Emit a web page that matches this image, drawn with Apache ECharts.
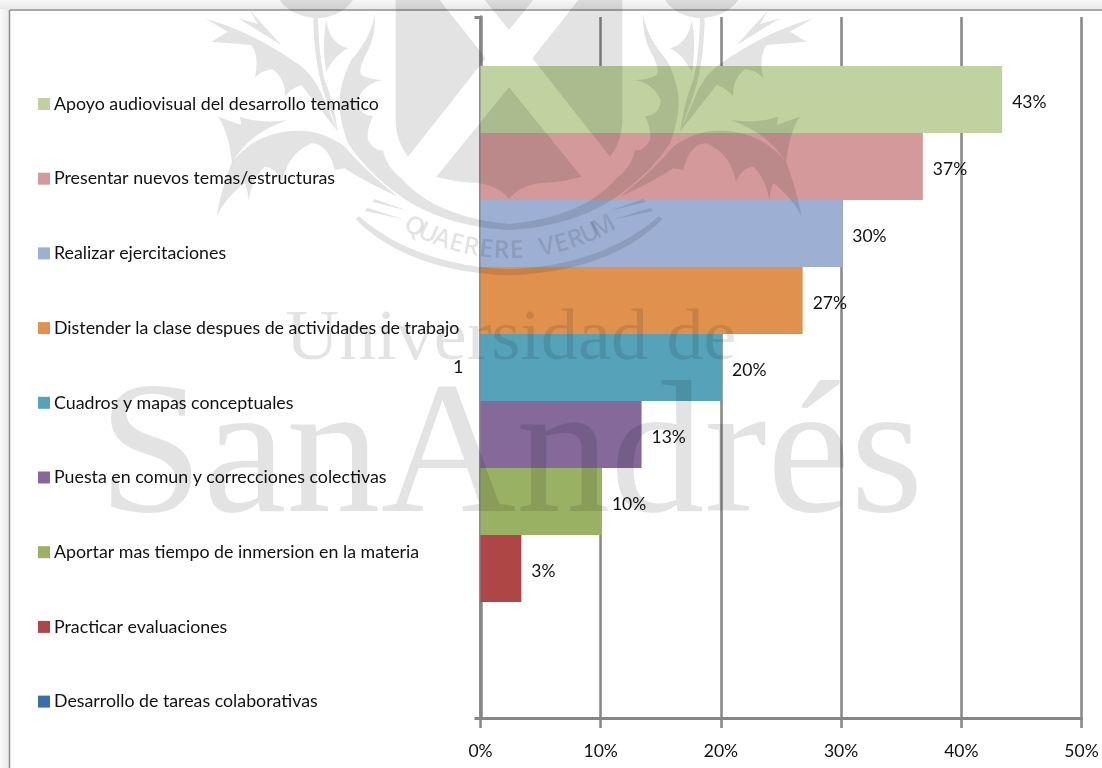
<!DOCTYPE html>
<html>
<head>
<meta charset="utf-8">
<style>html,body{margin:0;padding:0;background:#fff}#chart{width:1102px;height:768px}</style>
<script src="https://cdn.jsdelivr.net/npm/echarts@6/dist/echarts.min.js"></script>
</head>
<body>
<div id="chart"></div>
<script>
const categories = ['1'];
const seriesNames = [
  'Apoyo audiovisual del desarrollo tematico',
  'Presentar nuevos temas/estructuras',
  'Realizar ejercitaciones',
  'Distender la clase despues de actividades de trabajo',
  'Cuadros y mapas conceptuales',
  'Puesta en comun y correcciones colectivas',
  'Aportar mas tiempo de inmersion en la materia',
  'Practicar evaluaciones',
  'Desarrollo de tareas colaborativas'
];
const seriesValues = [43.4, 36.8, 30.1, 26.8, 20.1, 13.4, 10.1, 3.4, 0];
const seriesColors = ['#bfd2a0', '#d49a9b', '#9db0d4', '#e0914d', '#55a2b9', '#84699a', '#98b163', '#ae4645', '#3c6ea6'];
const axisTicks = { min: 0, max: 50, interval: 10 };

const FONT = 'Lato';
const AXIS_GREY = '#868686';
const STAMP = 'rgba(0,0,0,0.11)';

// Half of the university crest, drawn once and mirrored about the shield's centre.
const crestHalf = [
  // shield pieces between the saltire arms
  'M 27,262 L 245,530 Q 180,548 130,548 Q 60,555 27,597 Z',
  'M 235,0 L 97,175 L 330,470 Q 367,420 367,360 L 367,0 Z',
  'M 27,0 L 27,90 L 100,0 Z',
  // main stem sweeping round the shield
  'M 430,45 Q 425,110 460,170 Q 480,215 470,225 Q 440,240 405,240 Q 460,250 482,300 Q 480,345 435,348 Q 455,390 450,420 Q 430,455 405,450 Q 395,500 350,535 Q 250,650 27,672 L 27,690 Q 220,680 350,590 Q 450,520 510,430 Q 540,350 535,290 Q 530,240 500,180 Q 440,110 430,45 Z',
  // slim inner stem and its lobe
  'M 600,55 L 614,55 Q 612,200 575,300 L 540,395 Q 555,300 580,240 Q 597,170 600,55 Z',
  'M 575,60 Q 565,130 510,145 Q 550,165 575,215 Q 590,140 575,60 Z',
  // upper spiked leaf
  'M 540,395 L 650,255 Q 680,265 700,290 Q 695,240 735,208 Q 770,210 790,235 Q 775,170 800,135 L 920,125 L 870,95 L 940,55 Q 800,95 670,185 Q 620,215 590,280 Z',
  'M 710,135 L 805,30 L 780,72 L 840,55 Z',
  // lower spiked leaf
  'M 520,440 Q 600,380 700,395 Q 800,410 860,490 Q 890,570 905,650 Q 870,585 820,550 Q 810,570 808,605 Q 800,540 760,500 Q 725,505 708,545 Q 690,460 620,430 Q 570,430 550,510 L 520,505 Q 450,550 360,590 Q 450,520 520,440 Z',
  'M 690,360 Q 770,372 835,350 L 830,375 L 900,350 Q 870,390 858,490 Q 810,400 690,360 Z',
  // thistle head cut by the frame
  'M 495,0 Q 530,50 600,55 Q 680,50 715,0 Z',
  // ribbon strokes and the outer band under the motto
  'M 430,597 L 437,606 L 330,632 Z',
  'M 452,623 L 460,633 L 343,658 Z',
  'M 478,648 L 487,658 Q 330,815 27,826 L 27,808 Q 310,795 478,648 Z'
];

function outlinePoints(d) {
  const t = d.trim().split(/[\s,]+/);
  const pts = [];
  let i = 0, x = 0, y = 0;
  while (i < t.length) {
    const c = t[i++];
    if (c === 'Z') break;
    if (c === 'M' || c === 'L') {
      x = +t[i++]; y = +t[i++]; pts.push([x, y]);
    } else if (c === 'Q') {
      const cx = +t[i++], cy = +t[i++], ex = +t[i++], ey = +t[i++];
      for (let k = 1; k <= 12; k++) {
        const s = k / 12, r = 1 - s;
        pts.push([r * r * x + 2 * r * s * cx + s * s * ex, r * r * y + 2 * r * s * cy + s * s * ey]);
      }
      x = ex; y = ey;
    }
  }
  return pts;
}

const crestAxis = 509;
const stamp = [];
crestHalf.forEach(d => {
  const pts = outlinePoints(d).map(p => [500 + p[0] / 3, p[1] / 3]);
  [pts, pts.map(p => [2 * crestAxis - p[0], p[1]])].forEach(points => {
    stamp.push({ type: 'polygon', z: 100, silent: true, shape: { points }, style: { fill: STAMP } });
  });
});

// Motto set letter by letter along an arc.
const motto = 'QUAERERE VERUM';
const mottoRadius = 200, mottoCy = 53, mottoStep = 15.2;
Array.from(motto).forEach((ch, i) => {
  if (ch === ' ') return;
  const off = (i - (motto.length - 1) / 2) * mottoStep;
  const a = off / mottoRadius;
  stamp.push({
    type: 'text', z: 100, silent: true,
    x: crestAxis + mottoRadius * Math.sin(a),
    y: mottoCy + mottoRadius * Math.cos(a) - 2,
    rotation: a,
    originX: 0, originY: 0,
    style: { text: ch, fill: STAMP, font: '600 25px "Open Sans"', textAlign: 'center', textVerticalAlign: 'middle' }
  });
});

stamp.push(
  { type: 'text', z: 100, silent: true, x: 511, y: 340, scaleX: 1.03, originX: 0, originY: 0,
    style: { text: 'Universidad de', fill: STAMP, font: '72px "Liberation Serif"', textAlign: 'center', textVerticalAlign: 'middle' } },
  { type: 'text', z: 100, silent: true, x: 511, y: 462,
    style: { text: 'SanAndrés', fill: STAMP, font: '188px "Liberation Serif"', textAlign: 'center', textVerticalAlign: 'middle' } }
);

// Window-like frame behind the plot.
const frame = [
  { type: 'rect', z: 0, silent: true, shape: { x: 0, y: 0, width: 1102, height: 9 },
    style: { fill: new echarts.graphic.LinearGradient(0, 0, 0, 1, [{ offset: 0, color: '#f8f8f8' }, { offset: 1, color: '#e9e9e9' }]) } },
  { type: 'rect', z: 0, silent: true, shape: { x: 0, y: 9, width: 9, height: 759 },
    style: { fill: new echarts.graphic.LinearGradient(0, 0, 1, 0, [{ offset: 0, color: '#fbfbfb' }, { offset: 1, color: '#e9e9e9' }]) } },
  { type: 'line', z: 1, silent: true, shape: { x1: 9.5, y1: 10, x2: 1102, y2: 10 }, style: { stroke: '#8d8d8d', lineWidth: 1.5 } },
  { type: 'line', z: 1, silent: true, shape: { x1: 9.5, y1: 10, x2: 9.5, y2: 768 }, style: { stroke: '#8d8d8d', lineWidth: 1.5 } }
];

const chart = echarts.init(document.getElementById('chart'), null, { renderer: 'canvas' });
chart.setOption({
  animation: false,
  backgroundColor: '#fff',
  textStyle: { fontFamily: FONT },
  grid: { left: 480.5, right: 20.5, top: 17, bottom: 50, containLabel: false },
  legend: {
    orient: 'vertical', left: 38, top: 94, padding: 0,
    itemWidth: 12, itemHeight: 12, itemGap: 54.7, icon: 'rect',
    selectedMode: false, data: seriesNames,
    textStyle: { fontFamily: FONT, fontSize: 17.8, color: '#111', lineHeight: 20, padding: [0, 0, 0, -1] }
  },
  xAxis: {
    type: 'value', position: 'bottom',
    min: axisTicks.min, max: axisTicks.max, interval: axisTicks.interval,
    axisLine: { show: true, lineStyle: { color: AXIS_GREY, width: 3 } },
    axisTick: { show: true, length: 10, lineStyle: { color: AXIS_GREY, width: 2.5 } },
    axisLabel: { formatter: '{value}%', fontFamily: FONT, fontSize: 17.5, color: '#111', margin: 24 },
    splitLine: { show: true, lineStyle: { color: AXIS_GREY, width: 2.5 } }
  },
  yAxis: {
    type: 'category', inverse: true, data: categories,
    axisLine: { show: true, lineStyle: { color: AXIS_GREY, width: 3.5 } },
    axisTick: { show: true, length: 6, lineStyle: { color: AXIS_GREY, width: 3 } },
    axisLabel: { fontFamily: FONT, fontSize: 17.5, color: '#111', margin: 17, padding: [5, 0, 0, 0] }
  },
  series: seriesNames.map((name, i) => ({
    name, type: 'bar', barGap: 0, barCategoryGap: '14%',
    data: [seriesValues[i]],
    itemStyle: { color: seriesColors[i] },
    label: {
      show: seriesValues[i] > 0, position: 'right', distance: 10, offset: [0, 3],
      fontFamily: FONT, fontSize: 17.5, color: '#111',
      formatter: p => Math.round(p.value) + '%'
    }
  })),
  graphic: { elements: frame.concat(stamp) }
});
</script>
</body>
</html>
